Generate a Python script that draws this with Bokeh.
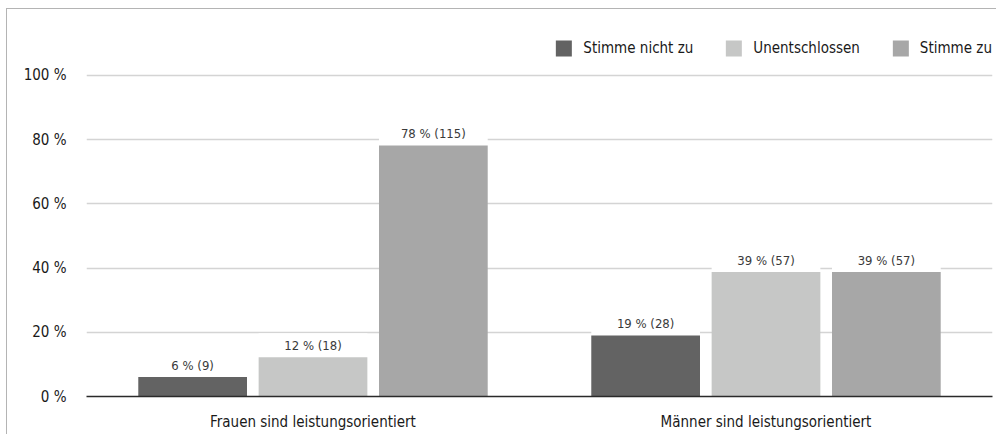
from bokeh.plotting import figure
from bokeh.models import ColumnDataSource, FactorRange, Range1d, FixedTicker, Legend, LegendItem
from bokeh.transform import dodge
from bokeh.embed import file_html
from bokeh.resources import INLINE

categories = ["Frauen sind leistungsorientiert", "Männer sind leistungsorientiert"]
series = ["Stimme nicht zu", "Unentschlossen", "Stimme zu"]
nicht_zu = [6.1, 19.0]
unentschlossen = [12.2, 38.8]
stimme_zu = [78.2, 38.8]
n_nicht_zu = [9, 28]
n_unentschlossen = [18, 57]
n_stimme_zu = [115, 57]
colors = ["#636363", "#c6c7c6", "#a7a7a7"]
y_ticks = [0, 20, 40, 60, 80, 100]

FONT = "DejaVu Sans Condensed"

p = figure(x_range=FactorRange(factors=categories, range_padding=0),
           y_range=Range1d(0, 111.5),
           width=990, height=426, output_backend="svg", toolbar_location=None,
           min_border_left=79, min_border_right=5, min_border_top=29, min_border_bottom=39)
p.outline_line_color = None
p.styles = {"border-left": "1px solid #b4b4b4", "border-top": "1px solid #b4b4b4",
            "margin-left": "6px", "margin-top": "8px"}

vals = [nicht_zu, unentschlossen, stimme_zu]
counts = [n_nicht_zu, n_unentschlossen, n_stimme_zu]
offsets = [-0.2657, 0.0, 0.2657]
width = 0.24

items = []
for name, v, n, c, off in zip(series, vals, counts, colors, offsets):
    src = ColumnDataSource(dict(
        cat=categories, val=v,
        top2=[x + 7.5 for x in v],
        lab=[f"{round(x):d} % ({k})" for x, k in zip(v, n)],
    ))
    # white backing behind labels (hides gridlines)
    p.vbar(x=dodge("cat", off, range=p.x_range), bottom="val", top="top2", width=width,
           source=src, fill_color="white", line_color=None)
    r = p.vbar(x=dodge("cat", off, range=p.x_range), top="val", width=width, source=src,
               fill_color=c, line_color=None)
    items.append(LegendItem(label=name, renderers=[r]))
    p.text(x=dodge("cat", off, range=p.x_range), y="val", text="lab", source=src,
           text_align="center", text_baseline="bottom", y_offset=-4,
           text_font_size="13px", text_color="#3a3a3a",
           text_font={"value": FONT})

legend = Legend(items=items, orientation="horizontal", location="top_right",
                glyph_width=20, glyph_height=20, label_standoff=10, spacing=30,
                padding=0, margin=0, border_line_color=None, background_fill_alpha=0,
                label_text_font=FONT, label_text_font_size="15px", label_text_color="#1a1a1a")
p.add_layout(legend)

p.yaxis.ticker = FixedTicker(ticks=y_ticks)
p.yaxis.major_label_overrides = {t: f"{t} %" for t in y_ticks}
p.yaxis.axis_line_color = None
p.yaxis.major_tick_line_color = None
p.yaxis.minor_tick_line_color = None
p.yaxis.major_label_standoff = 14
p.yaxis.major_label_text_font = FONT
p.yaxis.major_label_text_font_size = "15px"
p.yaxis.major_label_text_color = "#1a1a1a"

p.xaxis.axis_line_color = "#2a2a2a"
p.xaxis.axis_line_width = 1.5
p.xaxis.major_tick_line_color = None
p.xaxis.minor_tick_line_color = None
p.xaxis.major_label_standoff = 10
p.xaxis.major_label_text_font = FONT
p.xaxis.major_label_text_font_size = "15px"
p.xaxis.major_label_text_color = "#1a1a1a"

p.xgrid.grid_line_color = None
p.ygrid.grid_line_color = "#d4d4d4"
p.ygrid.grid_line_width = 1.5
p.ygrid.ticker = FixedTicker(ticks=[20, 40, 60, 80, 100])

open("out.html", "w").write(file_html(p, INLINE))
